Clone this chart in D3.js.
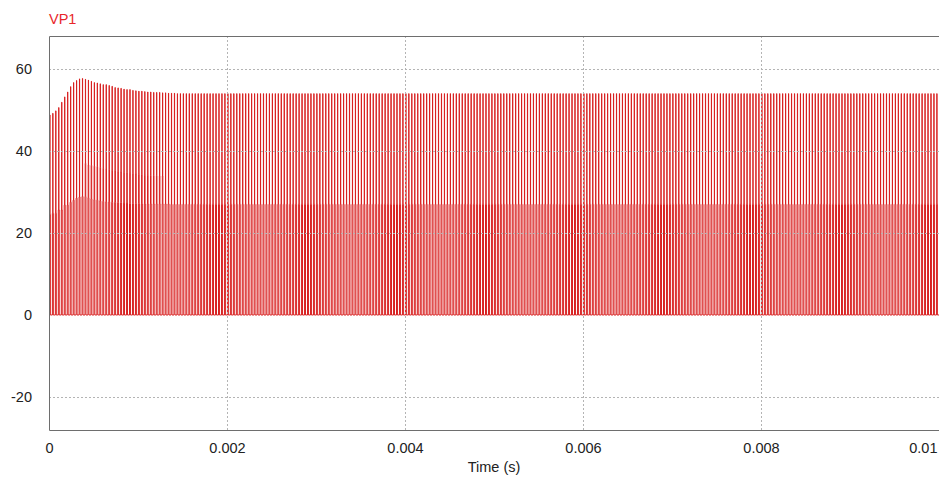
<!DOCTYPE html>
<html>
<head>
<meta charset="utf-8">
<script src="https://cdn.jsdelivr.net/npm/d3@7"></script>
<style>
  body { margin: 0; background: #fff; }
  text { font-family: Arial, "Liberation Sans", sans-serif; }
</style>
</head>
<body>
<div id="chart"></div>
<script>
var svgWidth = 939;
var svgHeight = 477;

var margin = { top: 36, right: 0, bottom: 47, left: 49 };
var width = svgWidth - margin.left - margin.right;
var height = svgHeight - margin.top - margin.bottom;

// tick values
var xTicks = [0, 0.002, 0.004, 0.006, 0.008, 0.01];
var xTickLabels = ["0", "0.002", "0.004", "0.006", "0.008", "0.01"];
var yTicks = [60, 40, 20, 0, -20];

// switching pulses of VP1 over 0 .. 0.01 s
var tEnd = 0.01;
var pulseCount = 300;

// peak level of each pulse during start-up (pulse 0, 1, 2 ...)
var peakV = [48.8, 49.2, 49.8, 50.6, 51.9, 53.2, 54.4, 55.7, 56.7, 57.2,
  57.6, 57.7, 57.5, 57.3, 57.0, 56.7, 56.6, 56.4, 56.2, 56.2,
  56.0, 55.8, 55.5, 55.4, 55.3, 55.1, 55.0, 55.0, 54.8, 54.7,
  54.6, 54.6, 54.5, 54.4, 54.4, 54.3, 54.3, 54.3, 54.2, 54.2,
  54.1, 54.1, 54.1];
// lower step of each pulse during start-up
var lowV = [24.5, 24.8, 24.8, 25.6, 25.6, 26.8, 26.8, 27.5, 28.0, 28.5,
  28.8, 28.9, 28.9, 28.6, 28.3, 28.1, 28.0, 27.8, 27.7, 27.6,
  27.6, 27.5, 27.5, 27.4, 27.4, 27.3, 27.3, 27.2, 27.2, 27.2,
  27.2, 27.1, 27.1, 27.1, 27.1, 27.1, 27.1, 27.1, 27.1, 27.1,
  27.1, 27.0, 27.0];
// middle step, only on pulses 12 .. 38
var midStart = 12;
var midV = [37.0, 36.6, 36.5, 36.3, 36.2, 36.0, 35.8, 35.6, 35.5, 35.3,
  35.2, 34.9, 34.9, 34.8, 34.7, 34.6, 34.5, 34.4, 34.3, 34.2,
  34.1, 34.1, 34.0, 34.0, 34.0, 33.9, 33.9];
var steadyPeak = 54.0;
var steadyLow = 27.0;

var svg = d3.select("#chart")
  .append("svg")
  .attr("width", svgWidth)
  .attr("height", svgHeight);

var chartGroup = svg.append("g")
  .attr("transform", `translate(${margin.left}, ${margin.top})`);

var xScale = d3.scaleLinear().domain([0, tEnd]).range([0, width]);
var yScale = d3.scaleLinear().domain([-28.05, 68.05]).range([height, 0]);

svg.append("defs").append("clipPath")
  .attr("id", "plotClip")
  .append("rect")
  .attr("width", width)
  .attr("height", height);

// build the stepped waveform, pulse by pulse
var T = tEnd / pulseCount;
var points = [];
for (var k = 0; k < pulseCount; k++) {
  var c = k * T + 0.3 * T;
  var levels = [];
  var mid = midV[k - midStart];
  levels.push({ v: k < lowV.length ? lowV[k] : steadyLow, w: 0.16 });
  if (mid !== undefined) levels.push({ v: mid, w: 0.09 });
  levels.push({ v: k < peakV.length ? peakV[k] : steadyPeak, w: 0.03 });

  var prev = 0;
  levels.forEach(function(l) {
    points.push([c - l.w * T, prev]);
    points.push([c - l.w * T, l.v]);
    prev = l.v;
  });
  for (var i = levels.length - 1; i >= 0; i--) {
    var below = i > 0 ? levels[i - 1].v : 0;
    points.push([c + levels[i].w * T, levels[i].v]);
    points.push([c + levels[i].w * T, below]);
  }
}
points.push([tEnd, 0]);

var line = d3.line()
  .x(d => xScale(d[0]))
  .y(d => yScale(d[1]));

chartGroup.append("path")
  .datum(points)
  .attr("clip-path", "url(#plotClip)")
  .attr("fill", "none")
  .attr("stroke", "#d82020")
  .attr("stroke-width", 1)
  .attr("d", line);

// dotted grid
chartGroup.selectAll(".hgrid")
  .data(yTicks.filter(d => d !== 0))
  .enter()
  .append("line")
  .attr("x1", 0)
  .attr("x2", width)
  .attr("y1", d => Math.round(yScale(d)) + 0.5)
  .attr("y2", d => Math.round(yScale(d)) + 0.5)
  .attr("stroke", "#b4b4b4")
  .attr("stroke-dasharray", "2,2");

chartGroup.selectAll(".vgrid")
  .data(xTicks.slice(1, 5))
  .enter()
  .append("line")
  .attr("x1", d => Math.round(xScale(d)) + 0.5)
  .attr("x2", d => Math.round(xScale(d)) + 0.5)
  .attr("y1", 0)
  .attr("y2", height)
  .attr("stroke", "#b4b4b4")
  .attr("stroke-dasharray", "2,2");

// frame
chartGroup.append("path")
  .attr("d", `M${width},0.5H0.5V${height + 0.5}H${width}`)
  .attr("fill", "none")
  .attr("stroke", "#6e6e6e")
  .attr("stroke-width", 1);

// axes
var leftAxis = d3.axisLeft(yScale)
  .tickValues(yTicks)
  .tickFormat(d => String(d))
  .tickSize(0)
  .tickPadding(17);

var yAxis = chartGroup.append("g").call(leftAxis);
yAxis.select(".domain").remove();
yAxis.selectAll("text")
  .attr("font-size", "14.5px")
  .attr("fill", "#222");

var bottomAxis = d3.axisBottom(xScale)
  .tickValues(xTicks)
  .tickFormat((d, i) => xTickLabels[i])
  .tickSize(0)
  .tickPadding(13);

var xAxis = chartGroup.append("g")
  .attr("transform", `translate(0, ${height})`)
  .call(bottomAxis);
xAxis.select(".domain").remove();
xAxis.selectAll("text")
  .attr("font-size", "14.5px")
  .attr("fill", "#222")
  .attr("text-anchor", (d, i) => i === xTicks.length - 1 ? "end" : "middle")
  .attr("dx", (d, i) => i === xTicks.length - 1 ? "-2" : "0");

svg.append("text")
  .attr("x", margin.left + width / 2)
  .attr("y", 472)
  .attr("text-anchor", "middle")
  .attr("font-size", "14.5px")
  .attr("fill", "#222")
  .text("Time (s)");

svg.append("text")
  .attr("x", 49)
  .attr("y", 24)
  .attr("font-size", "14.5px")
  .attr("fill", "#e8262a")
  .text("VP1");
</script>
</body>
</html>
